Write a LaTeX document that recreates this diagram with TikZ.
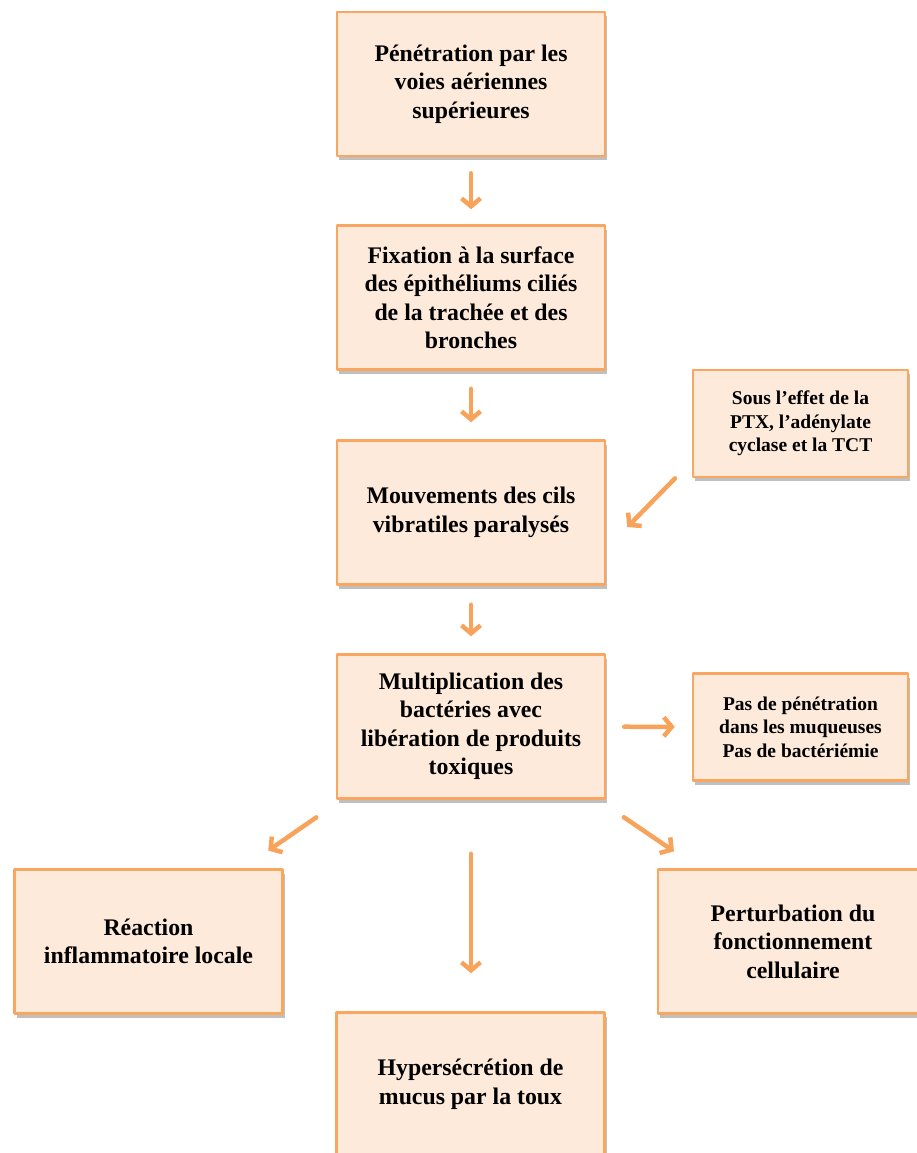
\documentclass[tikz,border=0pt]{standalone}
\usepackage{fontspec}
\setmainfont{Liberation Serif}
\usetikzlibrary{arrows.meta,shadows}
\definecolor{boxfill}{RGB}{253,234,218}
\definecolor{boxline}{RGB}{249,166,96}
\definecolor{arrowcol}{RGB}{247,163,92}

\begin{document}
\begin{tikzpicture}[line cap=round,line join=round,>={Straight Barb[length=8pt,width=19pt]},x=1pt,y=-1pt,
		etape/.style={draw=boxline,line width=2.5pt,fill=boxfill,align=center,inner sep=0pt,
			font=\bfseries\fontsize{23.8}{28.5}\selectfont,minimum width=268pt,minimum height=144pt,
			drop shadow={shadow xshift=2pt,shadow yshift=-4pt,fill=black,opacity=0.25}},
		remarque/.style={etape,font=\bfseries\fontsize{19.5}{23.5}\selectfont,minimum width=215pt,minimum height=107pt},
		fleche/.style={->,draw=arrowcol,line width=4.5pt}]
		\useasboundingbox (0,0) rectangle (917,1153);
		\clip (0,0) rectangle (917,1153);
		% colonne centrale
		\node[etape] (pen) at (471,84) {Pénétration par les\\voies aériennes\\supérieures};
		\node[etape] (fix) at (471,297.5) {Fixation à la surface\\des épithéliums ciliés\\de la trachée et des\\bronches};
		\node[etape] (mouv) at (471,512.5) {Mouvements des cils\\vibratiles paralysés};
		\node[etape] (mult) at (471,726.5) {Multiplication des\\bactéries avec\\libération de produits\\toxiques};
		\node[etape] (hyper) at (470.5,1084.5) {Hypersécrétion de\\mucus par la toux};
		% a droite
		\node[remarque] (sous) at (800.5,423.5) {Sous l’effet de la\\PTX, l’adénylate\\cyclase et la TCT};
		\node[remarque] (pas) at (800.5,727) {Pas de pénétration\\dans les muqueuses\\Pas de bactériémie};
		% en bas
		\node[etape] (reac) at (148.5,941.5) {Réaction\\inflammatoire locale};
		\node[etape,minimum width=270pt] (pert) at (793,941.5) {Perturbation du\\fonctionnement\\cellulaire};
		% fleches
		\draw[fleche,shorten <=16pt,shorten >=15pt] (pen) -- (fix);
		\draw[fleche,shorten <=18pt,shorten >=17pt] (fix) -- (mouv);
		\draw[fleche,shorten <=19pt,shorten >=17pt] (mouv) -- (mult);
		\draw[fleche,shorten <=24pt,shorten >=30pt] ([yshift=17pt]sous.south west) -- ([yshift=-36pt]mouv.east);
		\draw[fleche,shorten <=18pt,shorten >=17pt] (mult) -- (pas);
		\draw[fleche,shorten <=31pt,shorten >=31pt] ([xshift=6pt]mult.south west) -- ([xshift=-41pt]reac.north east);
		\draw[fleche,shorten <=54pt,shorten >=38pt] (mult.south) -- (mult.south |- hyper.north);
		\draw[fleche,shorten <=31pt,shorten >=30pt] ([xshift=-8pt]mult.south east) -- ([xshift=42pt]pert.north west);
	\end{tikzpicture}
\end{document}
